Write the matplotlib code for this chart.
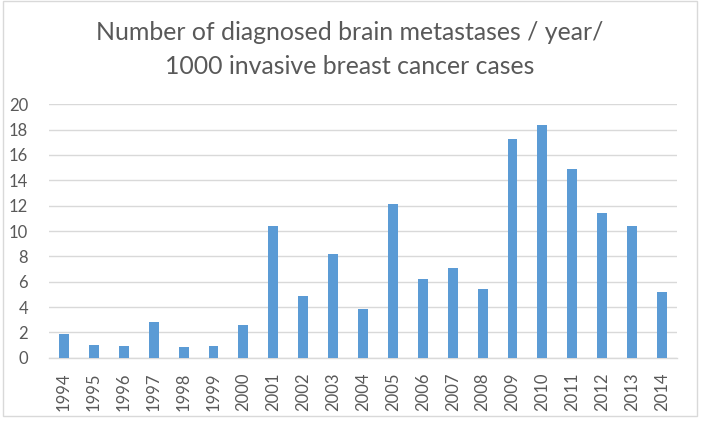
import matplotlib
matplotlib.use("Agg")
import matplotlib.pyplot as plt
from matplotlib.patches import Rectangle

years = ["1994", "1995", "1996", "1997", "1998", "1999", "2000", "2001", "2002", "2003", "2004",
         "2005", "2006", "2007", "2008", "2009", "2010", "2011", "2012", "2013", "2014"]
values = [1.87, 0.97, 0.92, 2.84, 0.84, 0.92, 2.58, 10.37, 4.84, 8.16, 3.84,
          12.13, 6.18, 7.10, 5.42, 17.24, 18.39, 14.92, 11.42, 10.42, 5.21]
title_line1 = "Number of diagnosed brain metastases / year/"
title_line2 = "1000 invasive breast cancer cases"

W, H = 702, 421
plt.rcParams['font.family'] = ['Lato', 'DejaVu Sans']
fig = plt.figure(figsize=(W / 100, H / 100), dpi=100)
fig.patch.set_facecolor("white")

# chart border
fig.patches.append(Rectangle((3 / W, 1 - 416 / H), 694 / W, 415 / H, transform=fig.transFigure,
                             fill=False, edgecolor="#D9D9D9", linewidth=1))

left, right, top, bottom = 49, 677, 104.3, 357.7
ax = fig.add_axes([left / W, 1 - bottom / H, (right - left) / W, (bottom - top) / H])
x = list(range(len(years)))
ax.bar(x, values, width=0.33, color="#5B9BD5", zorder=3)
ax.set_xlim(-0.5, len(years) - 0.5)
ax.set_ylim(0, 20)
ax.set_yticks(range(0, 21, 2))
ax.set_xticks(x)
ax.set_xticklabels(years, rotation=90)
ax.grid(axis="y", color="#D9D9D9", linewidth=1, zorder=0)
for s in ["left", "right", "top"]:
    ax.spines[s].set_visible(False)
ax.spines["bottom"].set_color("#D9D9D9")
ax.spines["bottom"].set_linewidth(1)
ax.tick_params(axis="both", length=0, colors="#595959", labelsize=12)
ax.tick_params(axis="y", pad=15)
ax.tick_params(axis="x", pad=11)

fig.text(350 / W, 1 - 39.5 / H, title_line1, ha="center", va="baseline", fontsize=17.9,
         color="#595959")
fig.text(350 / W, 1 - 73.5 / H, title_line2, ha="center", va="baseline", fontsize=17.9,
         color="#595959")

fig.savefig("out.png", dpi=100)
